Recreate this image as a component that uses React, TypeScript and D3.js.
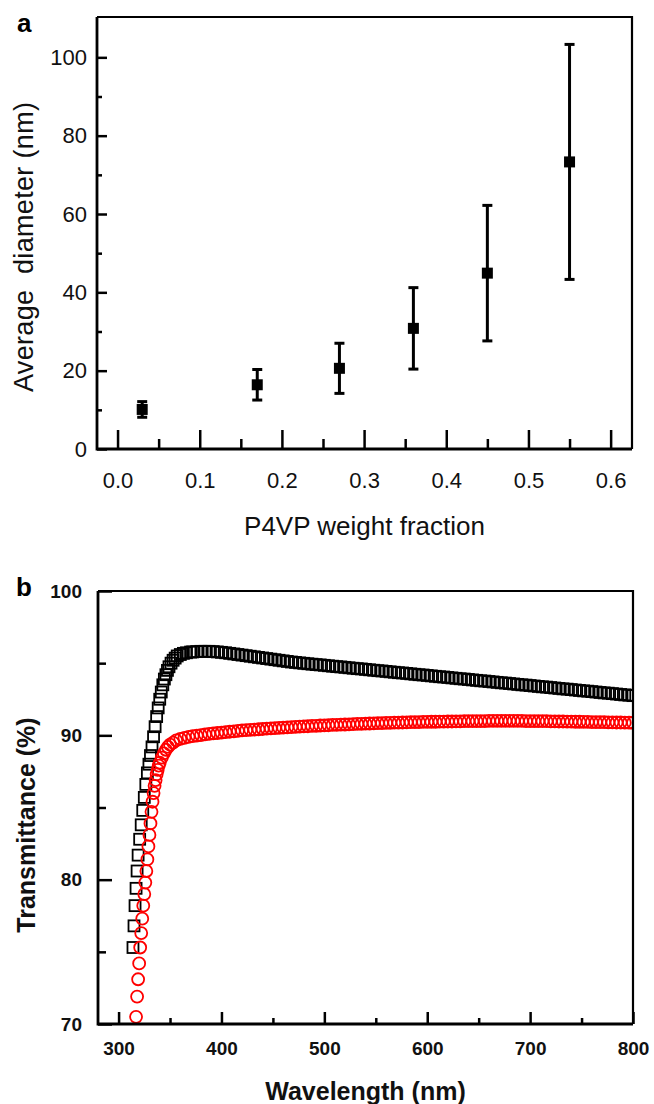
import React, { useEffect, useRef } from 'react';
import * as d3 from 'd3';

// panel a: average diameter vs P4VP weight fraction
const fraction = [0.03, 0.17, 0.27, 0.36, 0.45, 0.55];
const diameter = [10.1, 16.4, 20.6, 30.8, 44.9, 73.3];
const diameterErr = [2.0, 3.9, 6.4, 10.4, 17.3, 30.0];

// panel b: transmittance spectra, steep onset read point by point
const blackSteepWl = [314, 315, 316, 317, 318, 319, 320.5, 322, 323.5, 325, 326.5, 328, 329.5, 331, 332.5, 334, 335.5, 337, 338.5, 340, 341.5, 343, 344.5, 346, 347.5, 349, 351, 353, 355, 357, 360, 363, 366, 370];
const blackSteepT = [75.3, 76.8, 78.2, 79.4, 80.6, 81.7, 82.8, 83.8, 84.8, 85.7, 86.6, 87.4, 88.0, 88.6, 89.2, 89.9, 90.6, 91.3, 91.9, 92.5, 93.0, 93.5, 93.9, 94.2, 94.5, 94.75, 95.0, 95.2, 95.35, 95.5, 95.6, 95.68, 95.72, 95.77];

const redSteepWl = [317, 318, 319, 320, 321, 322, 323, 324, 325, 326, 327, 328, 329, 330, 331, 332, 333, 334, 335, 336, 337, 338, 339, 340, 342, 344, 346, 348, 350, 353, 356, 360, 364, 368];
const redSteepT = [70.5, 71.9, 73.1, 74.2, 75.3, 76.3, 77.3, 78.2, 79.0, 79.8, 80.6, 81.4, 82.3, 83.1, 83.9, 84.7, 85.4, 86.0, 86.5, 86.9, 87.3, 87.6, 87.9, 88.1, 88.45, 88.75, 89.0, 89.2, 89.35, 89.5, 89.65, 89.75, 89.83, 89.9];

// flat part, sampled every 4 nm from 372 to 800
const flatWl = d3.range(372, 801, 4);
const blackFlatT = [
  95.78, 95.80, 95.82, 95.82, 95.82, 95.80, 95.78, 95.75, 95.72, 95.68,
  95.64, 95.60, 95.56, 95.52, 95.48, 95.44, 95.40, 95.36, 95.32, 95.28,
  95.24, 95.20, 95.16, 95.12, 95.08, 95.05, 95.02, 94.99, 94.96, 94.93,
  94.90, 94.88, 94.85, 94.82, 94.79, 94.76, 94.74, 94.71, 94.68, 94.65,
  94.62, 94.60, 94.57, 94.54, 94.51, 94.48, 94.46, 94.43, 94.40, 94.37,
  94.34, 94.32, 94.29, 94.26, 94.23, 94.20, 94.18, 94.15, 94.12, 94.09,
  94.06, 94.04, 94.01, 93.98, 93.95, 93.92, 93.90, 93.87, 93.84, 93.81,
  93.78, 93.76, 93.73, 93.70, 93.67, 93.64, 93.62, 93.59, 93.56, 93.53,
  93.50, 93.48, 93.45, 93.42, 93.39, 93.36, 93.34, 93.31, 93.28, 93.25,
  93.22, 93.20, 93.17, 93.14, 93.11, 93.08, 93.06, 93.03, 93.00, 92.97,
  92.94, 92.92, 92.89, 92.86, 92.83, 92.80, 92.78, 92.75,
];
const redFlatT = [
  89.95, 89.98, 90.02, 90.06, 90.10, 90.13, 90.16, 90.19, 90.22, 90.25,
  90.28, 90.31, 90.34, 90.36, 90.38, 90.40, 90.42, 90.44, 90.46, 90.48,
  90.50, 90.52, 90.53, 90.55, 90.57, 90.58, 90.60, 90.62, 90.63, 90.65,
  90.66, 90.68, 90.69, 90.70, 90.72, 90.73, 90.74, 90.75, 90.76, 90.78,
  90.79, 90.80, 90.81, 90.82, 90.83, 90.84, 90.85, 90.86, 90.87, 90.88,
  90.88, 90.89, 90.90, 90.91, 90.91, 90.92, 90.93, 90.93, 90.94, 90.94,
  90.95, 90.95, 90.96, 90.96, 90.97, 90.97, 90.98, 90.98, 90.98, 90.99,
  90.99, 90.99, 91.00, 91.00, 91.00, 91.00, 91.00, 91.00, 91.00, 91.00,
  91.00, 90.99, 90.99, 90.99, 90.98, 90.98, 90.98, 90.97, 90.97, 90.96,
  90.96, 90.95, 90.95, 90.94, 90.94, 90.93, 90.93, 90.92, 90.92, 90.91,
  90.91, 90.90, 90.90, 90.89, 90.89, 90.88, 90.88, 90.87,
];

const aXTicks = [0, 0.1, 0.2, 0.3, 0.4, 0.5, 0.6];
const aXMinor = [0.05, 0.15, 0.25, 0.35, 0.45, 0.55];
const aYTicks = [0, 20, 40, 60, 80, 100];
const aYMinor = [10, 30, 50, 70, 90];
const bXTicks = [300, 400, 500, 600, 700, 800];
const bXMinor = [350, 450, 550, 650, 750];
const bYTicks = [70, 80, 90, 100];
const bYMinor = [75, 85, 95];

const FONT = '"Liberation Sans", Arial, sans-serif';

const App = () => {
  const ref = useRef(null);

  useEffect(() => {
    const svg = d3.select(ref.current);
    svg.selectAll('*').remove();

    const styleAxis = (g, size, weight) => {
      g.select('.domain').remove();
      g.selectAll('line').attr('stroke', '#000').attr('stroke-width', 2.5);
      g.selectAll('text')
        .attr('font-family', FONT)
        .attr('font-size', size)
        .attr('font-weight', weight)
        .attr('fill', '#111');
    };

    // ---------- panel a ----------
    const ax = d3.scaleLinear().domain([-0.025, 0.626]).range([97, 632]);
    const ay = d3.scaleLinear().domain([0, 110.3]).range([449, 17]);

    const ga = svg.append('g');

    ga.append('g')
      .attr('transform', `translate(0,${ay.range()[0]})`)
      .call(d3.axisBottom(ax).tickValues(aXTicks).tickFormat(d3.format('.1f')).tickSizeInner(-19).tickSizeOuter(0).tickPadding(23))
      .call(g => styleAxis(g, 22, 'normal'));
    ga.append('g')
      .attr('transform', `translate(0,${ay.range()[0]})`)
      .call(d3.axisBottom(ax).tickValues(aXMinor).tickFormat(() => '').tickSizeInner(-10).tickSizeOuter(0))
      .call(g => styleAxis(g, 22, 'normal'));
    ga.append('g')
      .attr('transform', `translate(${ax.range()[0]},0)`)
      .call(d3.axisLeft(ay).tickValues(aYTicks).tickSizeInner(-10).tickSizeOuter(0).tickPadding(10))
      .call(g => styleAxis(g, 22, 'normal'));
    ga.append('g')
      .attr('transform', `translate(${ax.range()[0]},0)`)
      .call(d3.axisLeft(ay).tickValues(aYMinor).tickFormat(() => '').tickSizeInner(-5).tickSizeOuter(0))
      .call(g => styleAxis(g, 22, 'normal'));

    // frame
    const [ax0, ax1] = ax.range();
    const [ay0, ay1] = ay.range();
    ga.append('path')
      .attr('d', `M${ax0},${ay1}H${ax1}V${ay0}`)
      .attr('fill', 'none').attr('stroke', '#000').attr('stroke-width', 2.2);
    ga.append('path')
      .attr('d', `M${ax0},${ay1}V${ay0}H${ax1}`)
      .attr('fill', 'none').attr('stroke', '#000').attr('stroke-width', 2.8);

    const pts = fraction.map((f, i) => ({ f, d: diameter[i], e: diameterErr[i] }));
    const eb = ga.append('g').attr('stroke', '#000').attr('stroke-width', 3);
    pts.forEach(p => {
      const x = ax(p.f);
      eb.append('line').attr('x1', x).attr('x2', x).attr('y1', ay(p.d - p.e)).attr('y2', ay(p.d + p.e));
      eb.append('line').attr('x1', x - 5).attr('x2', x + 5).attr('y1', ay(p.d - p.e)).attr('y2', ay(p.d - p.e));
      eb.append('line').attr('x1', x - 5).attr('x2', x + 5).attr('y1', ay(p.d + p.e)).attr('y2', ay(p.d + p.e));
    });
    ga.selectAll('rect.pt')
      .data(pts)
      .enter()
      .append('rect')
      .attr('class', 'pt')
      .attr('x', p => ax(p.f) - 5.5)
      .attr('y', p => ay(p.d) - 5.5)
      .attr('width', 11)
      .attr('height', 11)
      .attr('fill', '#000');

    ga.append('text')
      .attr('x', (ax0 + ax1) / 2).attr('y', 535)
      .attr('text-anchor', 'middle')
      .attr('font-family', FONT).attr('font-size', 26).attr('fill', '#111')
      .text('P4VP weight fraction');
    ga.append('text')
      .attr('transform', 'translate(33,247) rotate(-90)')
      .attr('text-anchor', 'middle')
      .attr('font-family', FONT).attr('font-size', 27).attr('fill', '#111')
      .attr('textLength', 290).attr('lengthAdjust', 'spacing')
      .style('white-space', 'pre')
      .text('Average  diameter (nm)');
    ga.append('text')
      .attr('x', 17).attr('y', 32)
      .attr('font-family', FONT).attr('font-size', 26).attr('font-weight', 'bold')
      .text('a');

    // ---------- panel b ----------
    const bx = d3.scaleLinear().domain([280, 800]).range([98, 633]);
    const by = d3.scaleLinear().domain([70, 100]).range([1024, 591]);
    const [bx0, bx1] = bx.range();
    const [by0, by1] = by.range();

    const gb = svg.append('g');

    gb.append('defs').append('clipPath').attr('id', 'clipb')
      .append('rect').attr('x', bx0).attr('y', by1).attr('width', bx1 - bx0).attr('height', by0 - by1);

    const blackT = blackSteepT.concat(blackFlatT);
    const redT = redSteepT.concat(redFlatT);
    const black = blackSteepWl.concat(flatWl).map((w, i) => ({ w, t: blackT[i] })).filter(d => d.t !== undefined);
    const red = redSteepWl.concat(flatWl).map((w, i) => ({ w, t: redT[i] })).filter(d => d.t !== undefined);

    const plot = gb.append('g').attr('clip-path', 'url(#clipb)');
    plot.append('g')
      .selectAll('rect')
      .data(black)
      .enter()
      .append('rect')
      .attr('x', d => bx(d.w) - 5.5)
      .attr('y', d => by(d.t) - 5.5)
      .attr('width', 11)
      .attr('height', 11)
      .attr('fill', 'none')
      .attr('stroke', '#000')
      .attr('stroke-width', 1.8);
    plot.append('g')
      .selectAll('circle')
      .data(red)
      .enter()
      .append('circle')
      .attr('cx', d => bx(d.w))
      .attr('cy', d => by(d.t))
      .attr('r', 6)
      .attr('fill', 'none')
      .attr('stroke', '#ff0000')
      .attr('stroke-width', 1.8);

    gb.append('g')
      .attr('transform', `translate(0,${by0})`)
      .call(d3.axisBottom(bx).tickValues(bXTicks).tickSizeInner(-12).tickSizeOuter(0).tickPadding(18))
      .call(g => styleAxis(g, 19, 'bold'));
    gb.append('g')
      .attr('transform', `translate(0,${by0})`)
      .call(d3.axisBottom(bx).tickValues(bXMinor).tickFormat(() => '').tickSizeInner(-6).tickSizeOuter(0))
      .call(g => styleAxis(g, 19, 'bold'));
    gb.append('g')
      .attr('transform', `translate(${bx0},0)`)
      .call(d3.axisLeft(by).tickValues(bYTicks).tickSizeInner(-14).tickSizeOuter(0).tickPadding(16))
      .call(g => styleAxis(g, 19, 'bold'));
    gb.append('g')
      .attr('transform', `translate(${bx0},0)`)
      .call(d3.axisLeft(by).tickValues(bYMinor).tickFormat(() => '').tickSizeInner(-8).tickSizeOuter(0))
      .call(g => styleAxis(g, 19, 'bold'));

    gb.append('path')
      .attr('d', `M${bx0},${by1}H${bx1}V${by0}`)
      .attr('fill', 'none').attr('stroke', '#000').attr('stroke-width', 2.2);
    gb.append('path')
      .attr('d', `M${bx0},${by1}V${by0}H${bx1}`)
      .attr('fill', 'none').attr('stroke', '#000').attr('stroke-width', 2.8);

    gb.append('text')
      .attr('x', (bx0 + bx1) / 2).attr('y', 1100)
      .attr('text-anchor', 'middle')
      .attr('font-family', FONT).attr('font-size', 25).attr('font-weight', 'bold').attr('fill', '#111')
      .text('Wavelength (nm)');
    gb.append('text')
      .attr('transform', 'translate(35,825) rotate(-90)')
      .attr('text-anchor', 'middle')
      .attr('font-family', FONT).attr('font-size', 25).attr('font-weight', 'bold').attr('fill', '#111')
      .text('Transmittance (%)');
    gb.append('text')
      .attr('x', 16).attr('y', 596)
      .attr('font-family', FONT).attr('font-size', 26).attr('font-weight', 'bold')
      .text('b');
  }, []);

  return (
    <svg
      ref={ref}
      width={654}
      height={1104}
      style={{ position: 'absolute', left: 0, top: 0, background: '#fff' }}
    />
  );
};

export default App;
